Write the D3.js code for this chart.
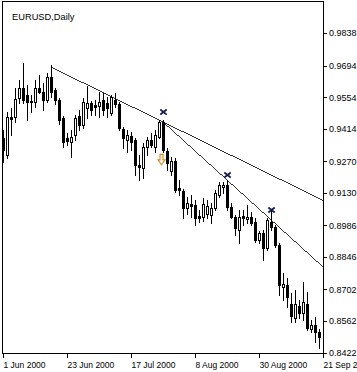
<!DOCTYPE html>
<html><head><meta charset="utf-8">
<script src="https://cdn.jsdelivr.net/npm/d3@7/dist/d3.min.js"></script>
<style>
html,body{margin:0;padding:0;background:#fff;overflow:hidden;}
svg{display:block;}
text{font-family:"Liberation Sans",Arial,sans-serif;fill:#000;}
</style></head>
<body>
<svg id="c" width="357" height="372"></svg>
<script>
// ---- data (EURUSD daily, 1 Jun 2000 .. 20 Sep 2000) ----
const title = "EURUSD,Daily";
const open  = [0.9373,0.9298,0.9466,0.9466,0.9550,0.9594,0.9563,0.9537,0.9532,0.9594,
               0.9577,0.9541,0.9643,0.9585,0.9541,0.9462,0.9373,0.9355,0.9386,0.9470,
               0.9430,0.9506,0.9528,0.9519,0.9515,0.9541,0.9528,0.9484,0.9541,0.9523,
               0.9413,0.9364,0.9382,0.9364,0.9253,0.9240,0.9333,0.9364,0.9333,0.9377,
               0.9444,0.9315,0.9227,0.9271,0.9151,0.9138,0.9063,0.9081,0.9076,0.9027,
               0.9023,0.9036,0.9032,0.9063,0.9120,0.9156,0.9165,0.9067,0.9023,0.8965,
               0.9027,0.9014,0.9023,0.9001,0.8921,0.8952,0.8886,0.9001,0.8979,0.8899,
               0.8713,0.8722,0.8638,0.8576,0.8629,0.8598,0.8638,0.8527,0.8545,0.8514];
const high  = [0.9408,0.9488,0.9506,0.9594,0.9630,0.9705,0.9608,0.9563,0.9630,0.9652,
               0.9616,0.9661,0.9696,0.9594,0.9550,0.9470,0.9395,0.9408,0.9475,0.9497,
               0.9550,0.9603,0.9537,0.9541,0.9577,0.9572,0.9554,0.9563,0.9572,0.9532,
               0.9422,0.9408,0.9400,0.9373,0.9298,0.9351,0.9377,0.9395,0.9408,0.9453,
               0.9453,0.9329,0.9289,0.9284,0.9187,0.9147,0.9112,0.9120,0.9098,0.9054,
               0.9107,0.9098,0.9085,0.9143,0.9178,0.9178,0.9187,0.9085,0.9032,0.9054,
               0.9054,0.9076,0.9045,0.9019,0.8961,0.8965,0.9019,0.9054,0.8988,0.8908,
               0.8775,0.8753,0.8686,0.8700,0.8655,0.8735,0.8691,0.8567,0.8580,0.8527];
const low   = [0.9267,0.9284,0.9386,0.9444,0.9528,0.9528,0.9453,0.9488,0.9510,0.9572,
               0.9497,0.9532,0.9554,0.9523,0.9435,0.9333,0.9342,0.9289,0.9364,0.9408,
               0.9417,0.9462,0.9475,0.9475,0.9466,0.9475,0.9466,0.9475,0.9510,0.9408,
               0.9329,0.9311,0.9320,0.9209,0.9187,0.9196,0.9298,0.9333,0.9311,0.9373,
               0.9311,0.9231,0.9209,0.9134,0.9120,0.9019,0.9036,0.9023,0.8988,0.9001,
               0.9005,0.9019,0.8996,0.9054,0.9112,0.9129,0.9054,0.9019,0.8943,0.8908,
               0.8988,0.8996,0.8988,0.8912,0.8908,0.8833,0.8877,0.8965,0.8890,0.8678,
               0.8655,0.8624,0.8558,0.8558,0.8576,0.8567,0.8523,0.8514,0.8469,0.8443];
const close = [0.9320,0.9466,0.9457,0.9546,0.9594,0.9541,0.9532,0.9532,0.9594,0.9577,
               0.9541,0.9643,0.9577,0.9541,0.9453,0.9355,0.9360,0.9377,0.9462,0.9430,
               0.9532,0.9528,0.9497,0.9510,0.9532,0.9497,0.9506,0.9554,0.9523,0.9417,
               0.9373,0.9386,0.9355,0.9253,0.9244,0.9333,0.9364,0.9342,0.9386,0.9444,
               0.9320,0.9262,0.9271,0.9143,0.9143,0.9063,0.9085,0.9072,0.9019,0.9019,
               0.9081,0.9072,0.9063,0.9129,0.9165,0.9165,0.9067,0.9023,0.8974,0.9023,
               0.9019,0.9023,0.8996,0.8921,0.8952,0.8886,0.9010,0.8979,0.8899,0.8722,
               0.8726,0.8669,0.8584,0.8638,0.8598,0.8647,0.8531,0.8545,0.8514,0.8492];
const priceTicks = [0.9838,0.9694,0.9554,0.9414,0.9270,0.9130,0.8986,0.8846,0.8702,0.8562,0.8422];
const dateTickIdx = [0,16,32,48,64,80];
const dateTickLabels = ["1 Jun 2000","23 Jun 2000","17 Jul 2000","8 Aug 2000","30 Aug 2000","21 Sep 2000"];
// trend lines: [startIndex, startPrice, throughIndex, throughPrice]
const trendLines = [[12,0.9687,40,0.9444],[40,0.9444,80,0.8802]];
const crossIdx   = [40,56,67];
const crossPrice = [0.9488,0.9209,0.9054];
const arrowIdx = [40];
const arrowPrice = [0.9276];

(function(){
const svg = d3.select("#c");
const pL = 2, pR = 323, pT = 1, pB = 353;
const x = d3.scaleLinear().domain([0, 80]).range([3, 323]);
const y = d3.scaleLinear().domain([0.8422, 0.9838]).range([352.7, 33]);

const g = svg.append("g");
const frame = g.append("g").attr("stroke","#000").attr("stroke-width",1).attr("shape-rendering","crispEdges");
frame.append("line").attr("x1",pL+0.5).attr("x2",pL+0.5).attr("y1",pT).attr("y2",pB+1);
frame.append("line").attr("x1",pL).attr("x2",pR+1).attr("y1",pT+0.5).attr("y2",pT+0.5);
frame.append("line").attr("x1",pR+0.5).attr("x2",pR+0.5).attr("y1",pT).attr("y2",pB+1);
frame.append("line").attr("x1",pL).attr("x2",pR+1).attr("y1",pB+0.5).attr("y2",pB+0.5);

const yAxis = d3.axisRight(y).tickValues(priceTicks).tickSize(3).tickPadding(3)
  .tickFormat(d3.format(".4f"));
const ya = g.append("g").attr("transform",`translate(${pR+0.5},0)`).call(yAxis);
ya.select(".domain").remove();
ya.selectAll("line").attr("stroke","#000").attr("shape-rendering","crispEdges");
ya.selectAll("text").attr("font-size","9px").attr("font-family","Liberation Sans, Arial, sans-serif")
  .attr("x",5.5).attr("fill","#000");

const xAxis = d3.axisBottom(x).tickValues(dateTickIdx).tickSize(4).tickPadding(3)
  .tickFormat((d,i)=>dateTickLabels[i]);
const xa = g.append("g").attr("transform",`translate(0,${pB+0.5})`).call(xAxis);
xa.select(".domain").remove();
xa.selectAll("line").attr("stroke","#000").attr("shape-rendering","crispEdges");
xa.selectAll("text").attr("font-size","8.5px").attr("font-family","Liberation Sans, Arial, sans-serif")
  .attr("text-anchor","start").attr("x",0).attr("dy","0.9em").attr("fill","#000");

g.append("text").attr("x",12).attr("y",20).attr("font-size","9.3px").text(title);

const bars = d3.range(open.length).map(i=>({i,o:open[i],h:high[i],l:low[i],c:close[i]}));
const cg = g.append("g").attr("shape-rendering","crispEdges");
const cs = cg.selectAll("g.c").data(bars).join("g").attr("class","c");
cs.append("line")
  .attr("x1",d=>Math.round(x(d.i))+0.5).attr("x2",d=>Math.round(x(d.i))+0.5)
  .attr("y1",d=>Math.round(y(d.h))).attr("y2",d=>Math.round(y(d.l))+1)
  .attr("stroke","#000");
cs.each(function(d){
  const cx = Math.round(x(d.i));
  const yt = Math.round(y(Math.max(d.o,d.c))), yb = Math.round(y(Math.min(d.o,d.c)));
  const sel = d3.select(this);
  if (d.c >= d.o) {
    sel.append("rect").attr("x",cx-0.5).attr("y",yt+0.5).attr("width",2).attr("height",Math.max(1,yb-yt))
      .attr("fill","#fff").attr("stroke","#000");
  } else {
    sel.append("rect").attr("x",cx-1).attr("y",yt).attr("width",3).attr("height",Math.max(1,yb-yt+1))
      .attr("fill","#000");
  }
});

trendLines.forEach(t=>{
  const slope = (t[3]-t[1])/(t[2]-t[0]);
  const endIdx = 80;
  g.append("line")
    .attr("x1",x(t[0])).attr("y1",y(t[1]))
    .attr("x2",x(endIdx)).attr("y2",y(t[1]+slope*(endIdx-t[0])))
    .attr("stroke","#000").attr("stroke-width",0.8).attr("shape-rendering","crispEdges");
});

crossIdx.forEach((ci,k)=>{
  const cx = x(ci)+0.5, cy = y(crossPrice[k]);
  const m = g.append("g").attr("stroke","#142150").attr("stroke-width",1.8).attr("stroke-linecap","square");
  m.append("line").attr("x1",cx-2.5).attr("y1",cy-2).attr("x2",cx+2.5).attr("y2",cy+2);
  m.append("line").attr("x1",cx-2.5).attr("y1",cy+2).attr("x2",cx+2.5).attr("y2",cy-2);
});

arrowIdx.forEach((ai,k)=>{
  const cx = x(ai)-1.5, cy = y(arrowPrice[k]);
  const p = `M${cx-1.5},${cy-5.5} L${cx+1.5},${cy-5.5} L${cx+1.5},${cy} L${cx+3.5},${cy} L${cx},${cy+5} L${cx-3.5},${cy} L${cx-1.5},${cy} Z`;
  g.append("path").attr("d",p).attr("fill","#fff").attr("stroke","#e0861a").attr("stroke-width",1.1);
});
})();
</script>
</body></html>
